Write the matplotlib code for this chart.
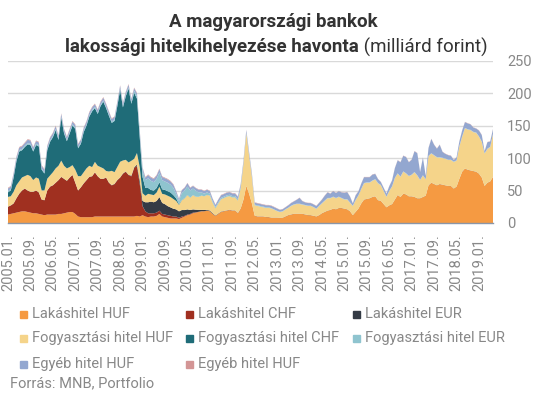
import numpy as np
import matplotlib
matplotlib.use("Agg")
import matplotlib.pyplot as plt
from matplotlib.patches import Rectangle

plt.rcParams['font.family'] = ['Roboto', 'DejaVu Sans']

# havi adatok 2005.01 - 2019.06 (milliárd forint), évenként soronként
lakas_huf = [13, 14, 15, 16, 17, 18, 18, 17, 16, 15, 15, 14,
             13, 12, 13, 13, 13, 13, 14, 14, 15, 16, 17, 17,
             14, 10, 9, 9, 9, 9, 9, 10, 10, 10, 10, 10,
             10, 10, 10, 10, 10, 10, 10, 10, 10, 10, 11, 10,
             12, 10, 9, 10, 10, 11, 14, 10, 9, 8, 7, 7,
             7, 6, 8, 10, 12, 13, 15, 16, 17, 18, 18, 19,
             18, 14, 11, 14, 17, 18, 19, 20, 19, 19, 15, 22,
             36, 57, 45, 30, 11, 10, 10, 10, 9, 9, 8, 8,
             8, 7.5, 8, 10, 12, 13, 14, 14, 14, 14, 13, 12,
             12, 11, 10, 12, 15, 17, 19, 20, 22, 21, 23, 23,
             22, 21, 18, 12, 17, 22, 30, 36, 37, 38, 40, 41,
             35, 34, 29, 24, 27, 29, 36, 43, 40, 45, 44, 41,
             41, 40, 38, 38, 40, 42, 58, 62, 60, 58, 60, 59,
             58, 57, 57, 53, 56, 68, 79, 84, 82, 81, 80, 79,
             76, 70, 57, 62, 64, 71]

lakas_chf = [12, 13, 15, 22, 28, 32, 35, 33, 32, 33, 35, 33,
             23, 23, 37, 43, 45, 49, 52, 57, 53, 49, 53, 57,
             48, 40, 46, 52, 57, 62, 63, 68, 62, 58, 58, 60,
             52, 48, 50, 56, 60, 66, 69, 64, 62, 75, 77, 50,
             14, 8, 6, 5, 5, 5, 5, 4, 4, 4, 4, 3,
             3, 2, 2, 1, 1, 1, 1, 0.5, 0.3, 0.2, 0.2, 0.2,
             0.2, 0.2, 0.2, 0.2, 0.2, 0.2, 0.2, 0.2, 0.2, 0.2, 0.2, 0.2,
             0.1, 0.1, 0.1, 0.1, 0.1, 0.1, 0.1, 0.1, 0.1, 0.1, 0.1, 0.1,
             0.1, 0.1, 0.1, 0.1, 0.1, 0.1, 0.1, 0.1, 0.1, 0.1, 0.1, 0.1,
             0, 0, 0, 0, 0, 0, 0, 0, 0, 0, 0, 0,
             0, 0, 0, 0, 0, 0, 0, 0, 0, 0, 0, 0,
             0, 0, 0, 0, 0, 0, 0, 0, 0, 0, 0, 0,
             0, 0, 0, 0, 0, 0, 0, 0, 0, 0, 0, 0,
             0, 0, 0, 0, 0, 0, 0, 0, 0, 0, 0, 0,
             0, 0, 0, 0, 0, 0]

lakas_eur = [0.3, 0.3, 0.3, 0.3, 0.3, 0.3, 0.3, 0.3, 0.3, 0.3, 0.3, 0.3,
             0.3, 0.3, 0.3, 0.3, 0.3, 0.3, 0.3, 0.3, 0.3, 0.3, 0.3, 0.3,
             0.3, 0.3, 0.3, 0.3, 0.3, 0.3, 0.3, 0.3, 0.3, 0.3, 0.3, 0.3,
             0.5, 0.5, 0.5, 0.5, 0.5, 0.5, 0.5, 0.5, 1, 1, 2, 6,
             8, 14, 17, 18, 17, 18, 21, 17, 16, 14, 13, 12,
             11, 10, 10, 9, 8, 6, 5, 4, 3, 2, 2, 1,
             1, 1, 0.5, 0.5, 0.5, 0.3, 0.3, 0.3, 0.3, 0.3, 0.3, 0.3,
             0.2, 0.2, 0.2, 0.2, 0.2, 0.2, 0.2, 0.2, 0.2, 0.2, 0.2, 0.2,
             0.2, 0.2, 0.2, 0.2, 0.2, 0.2, 0.2, 0.2, 0.2, 0.2, 0.2, 0.2,
             0.2, 0.2, 0.2, 0.2, 0.2, 0.2, 0.2, 0.2, 0.2, 0.2, 0.2, 0.2,
             0.2, 0.2, 0.2, 0.2, 0.2, 0.2, 0.2, 0.2, 0.2, 0.2, 0.2, 0.2,
             0.2, 0.2, 0.2, 0.2, 0.2, 0.2, 0.2, 0.2, 0.2, 0.2, 0.2, 0.2,
             0.2, 0.2, 0.2, 0.2, 0.2, 0.2, 0.2, 0.2, 0.2, 0.2, 0.2, 0.2,
             0.2, 0.2, 0.2, 0.2, 0.2, 0.2, 0.2, 0.2, 0.2, 0.2, 0.2, 0.2,
             0.2, 0.2, 0.2, 0.2, 0.2, 0.2]

fogy_huf = [15, 14, 18, 20, 19, 20, 19, 24, 24, 18, 20, 21,
            14, 15, 18, 17, 20, 22, 22, 25, 20, 19, 16, 15,
            20, 22, 17, 17, 18, 17, 14, 16, 16, 18, 16, 10,
            17, 22, 18, 20, 24, 20, 18, 19, 23, 13, 18, 20,
            12, 10, 13, 11, 11, 13, 16, 14, 15, 16, 16, 15,
            13, 10, 15, 18, 22, 19, 22, 20, 20, 22, 21, 23,
            23, 16, 11, 15, 19, 20, 21, 21, 20, 20, 19, 31,
            55, 81, 59, 41, 16, 16, 15, 14, 14, 14, 14, 12,
            10, 9, 9.5, 10.5, 11, 13, 14, 15, 15, 14, 14, 14,
            14, 13, 11.5, 14, 15, 17, 19, 18, 18, 17, 17, 15,
            14, 15, 13, 14, 18, 20, 22, 25, 25, 24, 25, 26,
            26, 24, 20, 16, 22, 27, 33, 33, 31, 34, 32, 31,
            33, 38, 35, 28, 33, 25, 45, 45, 44, 43, 41, 41,
            41, 40, 40, 41, 40, 50, 54, 62, 62, 62, 60, 60,
            57, 55, 50, 52, 53, 66]

fogy_chf = [7, 9, 22, 37, 46, 42, 45, 47, 48, 44, 50, 50,
            32, 26, 44, 52, 54, 59, 40, 66, 50, 42, 52, 61,
            63, 43, 50, 62, 66, 76, 86, 83, 80, 94, 103, 97,
            86, 74, 79, 94, 111, 82, 98, 114, 88, 102, 84, 46,
            25, 12, 9, 7, 7, 7, 7, 7, 7, 7, 7, 6,
            4, 1, 0.5, 0.3, 0.3, 0.2, 0.2, 0.2, 0.1, 0.1, 0.1, 0.1,
            0.1, 0.1, 0.1, 0.1, 0.1, 0.1, 0.1, 0.1, 0.1, 0.1, 0.1, 0.1,
            0, 0, 0, 0, 0, 0, 0, 0, 0, 0, 0, 0,
            0, 0, 0, 0, 0, 0, 0, 0, 0, 0, 0, 0,
            0, 0, 0, 0, 0, 0, 0, 0, 0, 0, 0, 0,
            0, 0, 0, 0, 0, 0, 0, 0, 0, 0, 0, 0,
            0, 0, 0, 0, 0, 0, 0, 0, 0, 0, 0, 0,
            0, 0, 0, 0, 0, 0, 0, 0, 0, 0, 0, 0,
            0, 0, 0, 0, 0, 0, 0, 0, 0, 0, 0, 0,
            0, 0, 0, 0, 0, 0]

fogy_eur = [2, 2, 2, 2, 2, 2, 2, 2, 2, 2, 2, 2,
            2, 2, 2, 2, 2, 2, 2, 2, 2, 2, 2, 2,
            2, 2, 2, 2, 2, 2, 2, 2, 2, 2, 2, 2,
            2, 2, 2, 2, 2, 2, 2, 2, 3, 3, 4, 6,
            10, 12, 15, 14, 13, 14, 15, 14, 13, 13, 12, 11,
            7, 5, 11, 12, 13, 11, 10, 9, 7, 5, 4, 4,
            3, 2, 2, 2, 2, 2, 2, 2, 2, 2, 2, 2,
            1, 1, 1, 1, 1, 1, 1, 1, 1, 1, 0.5, 0.5,
            0.5, 0.5, 0.5, 0.5, 0.5, 0.5, 0.5, 0.5, 0.5, 0.5, 0.5, 0.5,
            0.5, 0.5, 0.5, 0.5, 0.5, 0.5, 0.5, 0.5, 0.5, 0.5, 0.5, 0.5,
            0.5, 0.5, 0.5, 0.5, 0.5, 0.5, 0.5, 0.5, 0.5, 0.5, 0.5, 0.5,
            0.5, 0.5, 0.5, 0.5, 0.5, 0.5, 0.5, 0.5, 0.5, 0.5, 0.5, 0.5,
            0.5, 0.5, 0.5, 0.5, 0.5, 0.5, 0.5, 0.5, 0.5, 0.5, 0.5, 0.5,
            0.5, 0.5, 0.5, 0.5, 0.5, 0.5, 0.5, 0.5, 0.5, 0.5, 0.5, 0.5,
            0.5, 0.5, 0.5, 0.5, 0.5, 0.5]

egyeb_huf = [4, 4, 4, 4, 4, 4, 4, 5, 5, 4, 4, 4,
             4, 4, 4, 4, 4, 4, 4, 4, 4, 4, 4, 4,
             4, 4, 4, 4, 4, 4, 4, 4, 4, 4, 4, 4,
             4, 4, 4, 4, 4, 4, 4, 4, 4, 4, 4, 4,
             4, 4, 5, 5, 5, 5, 5, 5, 5, 5, 5, 5,
             4, 3, 4, 4, 5, 4, 4, 4, 4, 4, 4, 4,
             4, 4, 3, 4, 4, 4, 4, 4, 4, 4, 4, 4,
             4, 4, 4, 4, 3, 3, 3, 3, 3, 3, 3.5, 3.5,
             3.5, 3, 3, 3, 3.5, 4, 4.5, 6, 9, 5, 4, 4,
             4, 4, 4, 4.5, 5.5, 7.5, 8.5, 6.5, 8.5, 7.5, 8.5, 8.5,
             10, 11, 9, 3.5, 7, 6, 8, 9, 8, 8, 9, 8,
             6, 4.5, 4.5, 4.5, 7, 9, 15, 20, 22, 24, 25, 21,
             23, 32, 34, 12, 27, 5, 12, 22, 16, 13, 19, 9,
             7, 7, 6, 2.5, 4.5, 7, 9, 9, 9, 8.5, 6.5, 6,
             9, 10, 3, 10, 8, 7]

egyeb_huf_2 = [1, 1, 1, 1, 1, 1, 1, 1, 1, 1, 1, 1,
               1, 1, 1, 1, 1, 1, 1, 1, 1, 1, 1, 1,
               1, 1, 1, 1, 1, 1, 1, 1, 1, 1, 1, 1,
               1, 1, 1, 1, 1, 1, 1, 1, 1, 1, 1, 1,
               1, 1, 1, 1, 1, 1, 1, 1, 1, 1, 1, 1,
               0.6, 0.6, 0.6, 0.6, 0.6, 0.6, 0.6, 0.6, 0.6, 0.6, 0.6, 0.6,
               0.6, 0.6, 0.6, 0.6, 0.6, 0.6, 0.6, 0.6, 0.6, 0.6, 0.6, 0.6,
               0.6, 0.6, 0.6, 0.6, 0.6, 0.6, 0.6, 0.6, 0.6, 0.6, 0.6, 0.6,
               0.4, 0.4, 0.4, 0.4, 0.4, 0.4, 0.4, 0.4, 0.4, 0.4, 0.4, 0.4,
               0.4, 0.4, 0.4, 0.4, 0.4, 0.4, 0.4, 0.4, 0.4, 0.4, 0.4, 0.4,
               0.4, 0.4, 0.4, 0.4, 0.4, 0.4, 0.4, 0.4, 0.4, 0.4, 0.4, 0.4,
               0.4, 0.4, 0.4, 0.4, 0.4, 0.4, 0.4, 0.4, 0.4, 0.4, 0.4, 0.4,
               0.4, 0.4, 0.4, 0.4, 0.4, 0.4, 0.4, 0.4, 0.4, 0.4, 0.4, 0.4,
               0.4, 0.4, 0.4, 0.4, 0.4, 0.4, 0.4, 0.4, 0.4, 0.4, 0.4, 0.4,
               0.4, 0.4, 0.4, 0.4, 0.4, 0.4]

tick_labels = ['2005.01.', '2005.09.', '2006.05.', '2007.01.', '2007.09.', '2008.05.',
               '2009.01.', '2009.09.', '2010.05.', '2011.01.', '2011.09.', '2012.05.',
               '2013.01.', '2013.09.', '2014.05.', '2015.01.', '2015.09.', '2016.05.',
               '2017.01.', '2017.09.', '2018.05.', '2019.01.']

labels = ['Lakáshitel HUF', 'Lakáshitel CHF', 'Lakáshitel EUR',
          'Fogyasztási hitel HUF', 'Fogyasztási hitel CHF', 'Fogyasztási hitel EUR',
          'Egyéb hitel HUF', 'Egyéb hitel HUF']
colors = ['#f59a42', '#a03020', '#343b45', '#f5d48a', '#1f6c78', '#8fc4cf',
          '#93a7d0', '#d39595']

series = [lakas_huf, lakas_chf, lakas_eur, fogy_huf, fogy_chf, fogy_eur,
          egyeb_huf, egyeb_huf_2]

W, H = 534, 395
fig = plt.figure(figsize=(W / 100, H / 100), dpi=100)
ax = fig.add_axes([8 / W, 1 - 223 / H, 485 / W, 162 / H])

x = np.arange(len(lakas_huf))
ax.stackplot(x, *series, colors=colors, linewidth=0)

ax.set_xlim(0, len(x) - 1)
ax.set_ylim(0, 250)
ax.set_yticks(range(0, 251, 50))
ax.yaxis.tick_right()
ax.tick_params(axis='y', length=0, pad=10, labelsize=10.5, labelcolor='#888888')
ax.set_xticks(x[::8])
ax.set_xticklabels(tick_labels, rotation=90)
ax.tick_params(axis='x', length=0, pad=8, labelsize=10.5, labelcolor='#888888')
ax.grid(axis='y', color='#d9d9d9', lw=1)
ax.set_axisbelow(True)
for s in ['top', 'left', 'right']:
    ax.spines[s].set_visible(False)
ax.spines['bottom'].set_color('#8a96a8')
ax.spines['bottom'].set_linewidth(1)

# cím
fig.text(273 / W, 1 - 22 / H, 'A magyarországi bankok', ha='center', va='center',
         fontsize=13.5, fontweight='bold', color='#333333')
fig.text(359 / W, 1 - 47 / H, 'lakossági hitelkihelyezése havonta', ha='right', va='center',
         fontsize=13.5, fontweight='bold', color='#333333')
fig.text(359 / W, 1 - 47 / H, ' (milliárd forint)', ha='left', va='center',
         fontsize=13.5, color='#333333')

# jelmagyarázat, soronként 3 elem
col_x = [20, 186, 353]
row_y = [314, 338, 364]
for k, (lab, c) in enumerate(zip(labels, colors)):
    cx = col_x[k % 3]
    cy = row_y[k // 3]
    fig.patches.append(Rectangle((cx / W, 1 - (cy + 3.5) / H), 7 / W, 7 / H,
                                 transform=fig.transFigure, color=c))
    fig.text((cx + 12) / W, 1 - cy / H, lab, ha='left', va='center',
             fontsize=10.5, color='#888888')

fig.text(10 / W, 1 - 383 / H, 'Forrás: MNB, Portfolio', ha='left', va='center',
         fontsize=10.5, color='#888888')

fig.savefig('out.png', dpi=100)
